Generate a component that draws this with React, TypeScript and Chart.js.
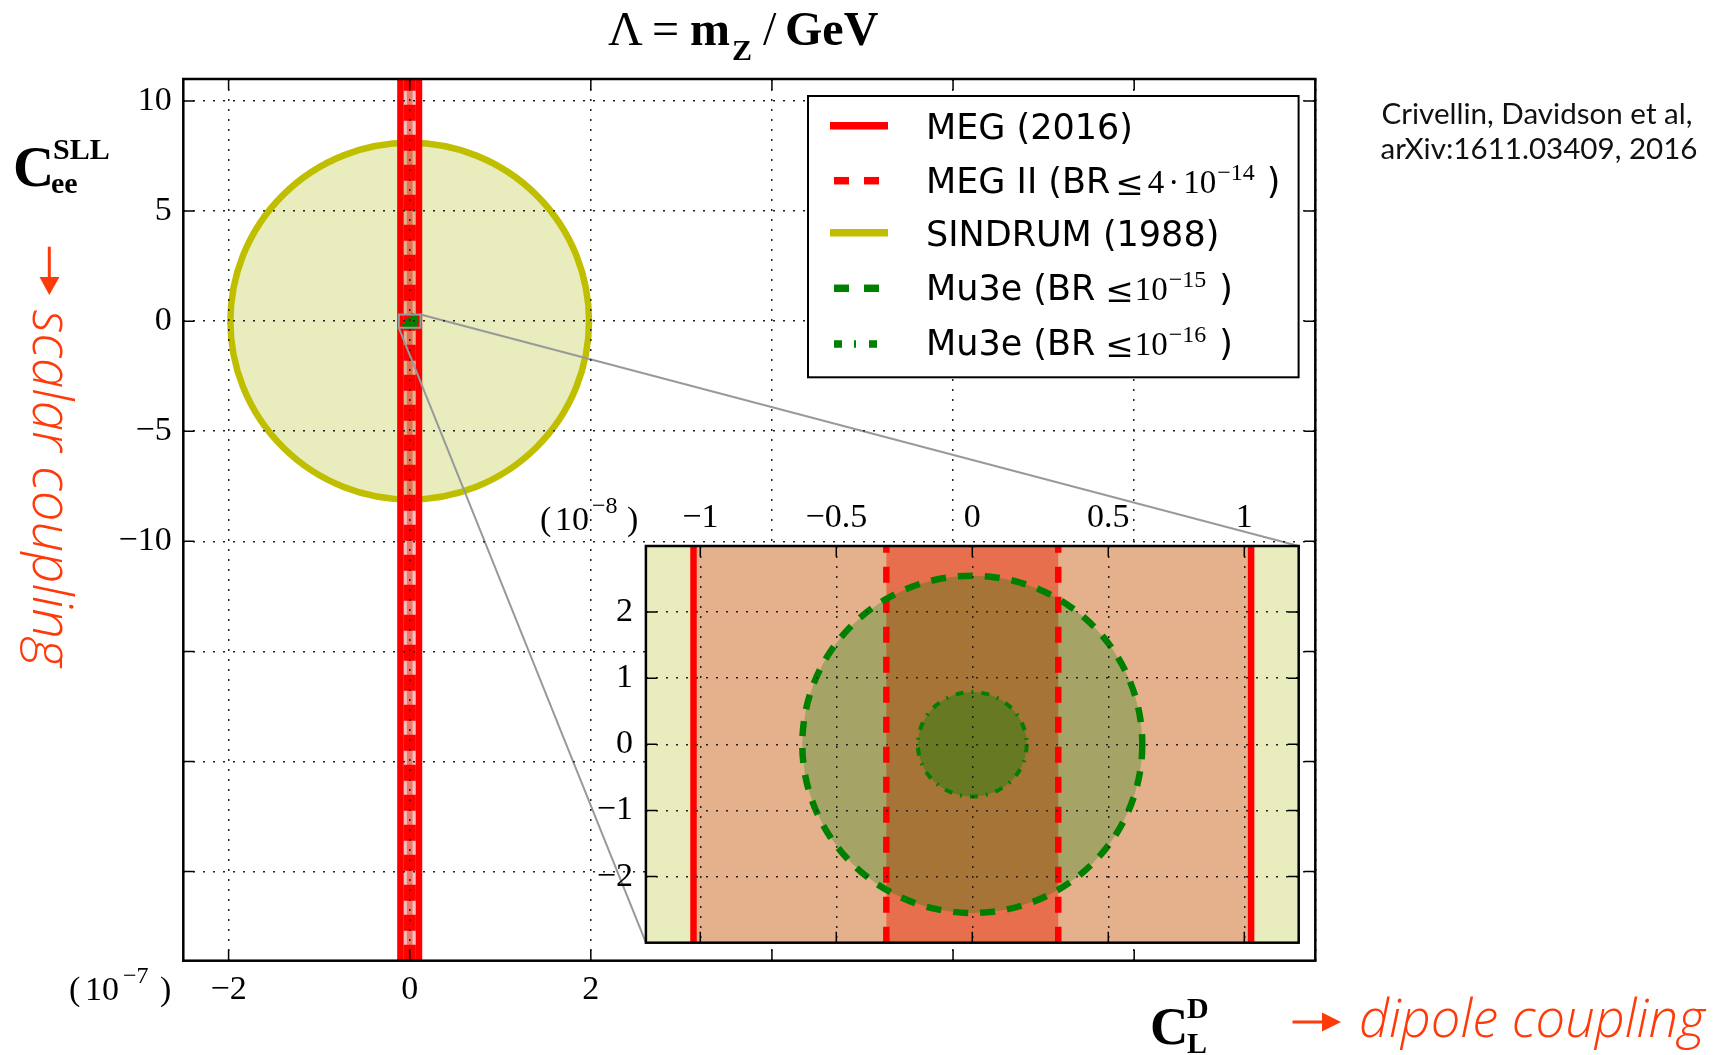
import React, { useEffect, useRef } from 'react';
import { Chart, registerables } from 'chart.js';
Chart.register(...registerables);

// ---------------- data ----------------
// x: C_L^D in units of 1e-8 ; y: C_ee^SLL in main-plot units
const megBoundX = [-1.025, 1.025];      // MEG (2016)
const meg2BoundX = [-0.316, 0.316];     // MEG II (BR <= 4e-14)
const sindrumEllipse = [0, 0, 19.8, 8.1];   // cx, cy, semi-axis x, semi-axis y
const mu3e15Ellipse = [0, 0, 0.625, 0.255];
const mu3e16Ellipse = [0, 0, 0.2, 0.079];
const zoomBoxX = [-1.2, 1.2];
const zoomBoxY = [-0.3, 0.3];

const mainXRange = [-25, 100];
const mainYRange = [-29.05, 11];
const mainXTicks = [-20, 0, 20, 40, 60, 80, 100];
const mainXTickLabels = ['−2', '0', '2', '', '', '', ''];
const mainYTicks = [-25, -20, -15, -10, -5, 0, 5, 10];
const mainYTickLabels = ['', '', '', '−10', '−5', '0', '5', '10'];

const insetXRange = [-1.2, 1.2];
const insetYRange = [-0.3, 0.3];
const insetXTicks = [-1, -0.5, 0, 0.5, 1];
const insetXTickLabels = ['−1', '−0.5', '0', '0.5', '1'];
const insetYTicks = [-0.2, -0.1, 0, 0.1, 0.2];
const insetYTickLabels = ['−2', '−1', '0', '1', '2'];

const legendNames = ['MEG (2016)', 'MEG II (BR', 'SINDRUM (1988)', 'Mu3e (BR', 'Mu3e (BR'];
const legendExponents = ['', '−14', '', '−15', '−16'];

// ---------------- layout / style constants ----------------
const W = 1720, H = 1055;
const MAIN_AREA = { left: 183.3, top: 79, right: 1315.3, bottom: 960.7 };
const INSET_CANVAS = { left: 500, top: 470, width: 810, height: 490 };
const INSET_AREA = { left: 645.9, top: 546, right: 1298.7, bottom: 942.7 };

const SERIF = '"Liberation Serif", "DejaVu Serif", serif';
const SANS = '"DejaVu Sans", sans-serif';
const HAND = '"Open Sans", "Lato", sans-serif';
const HAND_COLOR = '#ff3a0a';

const ellipseStyles = [
  { shape: sindrumEllipse, fill: '#e9ecbc', stroke: '#bfbf00', width: 6.5, dash: [] as number[] },
  { shape: mu3e15Ellipse, fill: 'rgba(0,128,0,0.28)', stroke: '#008000', width: 6.5, dash: [15, 12] },
  { shape: mu3e16Ellipse, fill: 'rgba(0,128,0,0.38)', stroke: '#008000', width: 4, dash: [8, 8, 2, 8] },
];

function regionDatasets(yr: number[]) {
  const [y0, y1] = yr;
  const rect = (b: number[]) => [
    { x: b[0], y: y0 }, { x: b[0], y: y1 }, { x: b[1], y: y1 }, { x: b[1], y: y0 },
  ];
  const vline = (v: number) => [{ x: v, y: y0 }, { x: v, y: y1 }];
  const base = { showLine: true, pointRadius: 0, pointHoverRadius: 0, tension: 0 };
  return [
    { ...base, label: 'MEG band', data: rect(megBoundX), fill: 'shape', backgroundColor: 'rgba(220,0,0,0.25)', borderColor: 'rgba(0,0,0,0)', borderWidth: 0, order: 6 },
    { ...base, label: 'MEG (2016)', data: vline(megBoundX[0]), fill: false, borderColor: '#ff0000', borderWidth: 6.5, order: 5 },
    { ...base, label: 'MEG (2016) r', data: vline(megBoundX[1]), fill: false, borderColor: '#ff0000', borderWidth: 6.5, order: 5 },
    { ...base, label: 'MEG II band', data: rect(meg2BoundX), fill: 'shape', backgroundColor: 'rgba(235,30,0,0.45)', borderColor: 'rgba(0,0,0,0)', borderWidth: 0, order: 4 },
    { ...base, label: 'MEG II', data: vline(meg2BoundX[0]), fill: false, borderColor: '#ff0000', borderWidth: 6.5, borderDash: [16, 14], order: 3 },
    { ...base, label: 'MEG II r', data: vline(meg2BoundX[1]), fill: false, borderColor: '#ff0000', borderWidth: 6.5, borderDash: [16, 14], order: 3 },
  ];
}

// part: 'fill' | 'stroke'; which: indexes into ellipseStyles
function drawEllipses(chart: any, which: number[], part: string) {
  const { ctx, chartArea: a, scales } = chart;
  const xs = scales.x, ys = scales.y;
  ctx.save();
  ctx.beginPath();
  ctx.rect(a.left, a.top, a.right - a.left, a.bottom - a.top);
  ctx.clip();
  for (const k of which) {
    const st = ellipseStyles[k];
    const [cx0, cy0, ax, ay] = st.shape;
    const cx = xs.getPixelForValue(cx0), cy = ys.getPixelForValue(cy0);
    const rx = Math.abs(xs.getPixelForValue(cx0 + ax) - cx);
    const ry = Math.abs(ys.getPixelForValue(cy0 + ay) - cy);
    ctx.beginPath();
    ctx.ellipse(cx, cy, rx, ry, 0, 0, Math.PI * 2);
    if (part === 'fill') {
      ctx.fillStyle = st.fill;
      ctx.fill();
    } else {
      ctx.setLineDash(st.dash);
      ctx.lineWidth = st.width;
      ctx.strokeStyle = st.stroke;
      ctx.stroke();
    }
  }
  ctx.restore();
}

function drawFrameTicks(chart: any, xt: number[], yt: number[]) {
  const { ctx, chartArea: a, scales } = chart;
  ctx.save();
  ctx.setLineDash([]);
  ctx.strokeStyle = '#000';
  ctx.lineWidth = 1.5;
  const L = 11;
  ctx.beginPath();
  for (const v of xt) {
    const p = scales.x.getPixelForValue(v);
    if (p <= a.left + 1 || p >= a.right - 1) continue;
    ctx.moveTo(p, a.bottom); ctx.lineTo(p, a.bottom - L);
    ctx.moveTo(p, a.top); ctx.lineTo(p, a.top + L);
  }
  for (const v of yt) {
    const p = scales.y.getPixelForValue(v);
    if (p <= a.top + 1 || p >= a.bottom - 1) continue;
    ctx.moveTo(a.left, p); ctx.lineTo(a.left + L, p);
    ctx.moveTo(a.right, p); ctx.lineTo(a.right - L, p);
  }
  ctx.stroke();
  ctx.lineWidth = 2.5;
  ctx.strokeRect(a.left, a.top, a.right - a.left, a.bottom - a.top);
  ctx.restore();
}

type Run = { t: string; font: string; pre?: number; dy?: number };
function drawSeq(ctx: CanvasRenderingContext2D, x: number, y: number, runs: Run[], color = '#000') {
  let cx = x;
  ctx.fillStyle = color;
  ctx.textAlign = 'left';
  ctx.textBaseline = 'alphabetic';
  for (const r of runs) {
    cx += r.pre || 0;
    ctx.font = r.font;
    ctx.fillText(r.t, cx, y + (r.dy || 0));
    cx += ctx.measureText(r.t).width;
  }
}
function drawAt(ctx: CanvasRenderingContext2D, t: string, font: string, x: number, y: number) {
  ctx.font = font;
  ctx.textAlign = 'left';
  ctx.textBaseline = 'alphabetic';
  ctx.fillStyle = '#000';
  ctx.fillText(t, x, y);
}
function fitFont(ctx: CanvasRenderingContext2D, t: string, tmpl: (s: number) => string, base: number, width: number) {
  ctx.font = tmpl(base);
  const w = ctx.measureText(t).width;
  return tmpl((base * width) / w);
}

function drawLegend(ctx: CanvasRenderingContext2D) {
  ctx.save();
  ctx.fillStyle = '#fff';
  ctx.fillRect(808, 96, 490.6, 281.3);
  ctx.strokeStyle = '#000';
  ctx.lineWidth = 2;
  ctx.strokeRect(808, 96, 490.6, 281.3);
  const samples = [
    { c: '#ff0000', d: [] as number[], x0: 830, x1: 888, y: 125.7 },
    { c: '#ff0000', d: [15, 15], x0: 834, x1: 879, y: 180.7 },
    { c: '#bfbf00', d: [] as number[], x0: 830, x1: 888, y: 232.7 },
    { c: '#008000', d: [15, 15], x0: 834, x1: 879, y: 288.3 },
    { c: '#008000', d: [8, 12, 2, 13], x0: 834, x1: 877, y: 344 },
  ];
  for (const s of samples) {
    ctx.beginPath();
    ctx.setLineDash(s.d);
    ctx.lineWidth = 7.5;
    ctx.strokeStyle = s.c;
    ctx.lineCap = 'butt';
    ctx.moveTo(s.x0, s.y);
    ctx.lineTo(s.x1, s.y);
    ctx.stroke();
  }
  ctx.setLineDash([]);
  const sans = `35px ${SANS}`;
  const m = `33px ${SERIF}`;
  const le = `34px "DejaVu Serif", serif`;
  const sup = `24px ${SERIF}`;
  const baselines = [139.3, 192.7, 245.7, 300, 355];
  const rows: Run[][] = [
    [{ t: legendNames[0], font: sans }],
    [{ t: legendNames[1], font: sans }, { t: '≤', font: le, pre: 5, dy: 2 }, { t: '4', font: m, pre: 4 }, { t: '·', font: m, pre: 4 },
      { t: '10', font: m, pre: 4 }, { t: legendExponents[1], font: sup, pre: 1, dy: -13 }, { t: ')', font: sans, pre: 12 }],
    [{ t: legendNames[2], font: sans }],
    [{ t: legendNames[3], font: sans }, { t: '≤', font: le, pre: 10, dy: 2 }, { t: '10', font: m, pre: 1 },
      { t: legendExponents[3], font: sup, pre: 1, dy: -13 }, { t: ')', font: sans, pre: 13 }],
    [{ t: legendNames[4], font: sans }, { t: '≤', font: le, pre: 10, dy: 2 }, { t: '10', font: m, pre: 1 },
      { t: legendExponents[4], font: sup, pre: 1, dy: -13 }, { t: ')', font: sans, pre: 13 }],
  ];
  rows.forEach((r, i) => drawSeq(ctx, 926, baselines[i], r));
  ctx.restore();
}

function drawTexts(ctx: CanvasRenderingContext2D) {
  ctx.save();
  // title
  drawAt(ctx, 'Λ', `48px ${SERIF}`, 608, 45);
  drawAt(ctx, '=', `48px ${SERIF}`, 652, 45);
  drawAt(ctx, 'm', `bold 48px ${SERIF}`, 690, 45);
  drawAt(ctx, 'Z', `bold 30px ${SERIF}`, 732, 60);
  drawAt(ctx, '/', `48px ${SERIF}`, 763, 45);
  drawAt(ctx, 'GeV', `bold 48px ${SERIF}`, 785, 45);
  // y label
  drawAt(ctx, 'C', `bold 57px ${SERIF}`, 13, 186);
  drawAt(ctx, 'SLL', `bold 30px ${SERIF}`, 53, 159);
  drawAt(ctx, 'ee', `bold 30px ${SERIF}`, 51, 193);
  // x label
  drawAt(ctx, 'C', `bold 53px ${SERIF}`, 1150, 1044);
  drawAt(ctx, 'D', `bold 30px ${SERIF}`, 1187, 1018);
  drawAt(ctx, 'L', `bold 30px ${SERIF}`, 1187, 1053);
  // axis multipliers
  drawAt(ctx, '(', `34px ${SERIF}`, 69, 1000);
  drawAt(ctx, '10', `34px ${SERIF}`, 85, 1000);
  drawAt(ctx, '−7', `24px ${SERIF}`, 123, 983);
  drawAt(ctx, ')', `34px ${SERIF}`, 160, 1000);
  drawAt(ctx, '(', `34px ${SERIF}`, 540, 530);
  drawAt(ctx, '10', `34px ${SERIF}`, 555, 530);
  drawAt(ctx, '−8', `24px ${SERIF}`, 592, 513);
  drawAt(ctx, ')', `34px ${SERIF}`, 627, 530);
  // credit
  const l1 = 'Crivellin, Davidson et al,';
  const l2 = 'arXiv:1611.03409, 2016';
  ctx.font = fitFont(ctx, l1, (s) => `${s}px Lato, "Open Sans", sans-serif`, 27, 311);
  ctx.fillStyle = '#111';
  ctx.textAlign = 'center';
  ctx.fillText(l1, 1537, 124);
  ctx.fillText(l2, 1539, 159);
  // hand annotations
  ctx.fillStyle = HAND_COLOR;
  ctx.strokeStyle = HAND_COLOR;
  ctx.lineWidth = 3;
  ctx.beginPath(); ctx.moveTo(1292.5, 1022); ctx.lineTo(1326, 1022); ctx.stroke();
  ctx.beginPath(); ctx.moveTo(1322, 1012.5); ctx.lineTo(1341, 1022); ctx.lineTo(1322, 1031.5); ctx.closePath(); ctx.fill();
  ctx.beginPath(); ctx.moveTo(49.3, 246.7); ctx.lineTo(49.3, 281); ctx.stroke();
  ctx.beginPath(); ctx.moveTo(39.5, 277); ctx.lineTo(59.5, 277); ctx.lineTo(49.3, 295); ctx.closePath(); ctx.fill();
  const d = 'dipole coupling';
  ctx.font = fitFont(ctx, d, (s) => `italic 300 ${s}px ${HAND}`, 44, 346);
  ctx.textAlign = 'left';
  ctx.fillText(d, 1359, 1037);
  const sc = 'scalar coupling';
  ctx.font = fitFont(ctx, sc, (s) => `italic 300 ${s}px ${HAND}`, 44, 357);
  ctx.translate(33, 310);
  ctx.rotate(Math.PI / 2);
  ctx.fillText(sc, 0, 0);
  ctx.restore();
}

function drawZoomMarks(chart: any) {
  const { ctx, scales } = chart;
  const x0 = scales.x.getPixelForValue(zoomBoxX[0]), x1 = scales.x.getPixelForValue(zoomBoxX[1]);
  const y0 = scales.y.getPixelForValue(zoomBoxY[0]), y1 = scales.y.getPixelForValue(zoomBoxY[1]);
  ctx.save();
  ctx.setLineDash([]);
  ctx.strokeStyle = '#999';
  ctx.lineWidth = 2;
  ctx.strokeRect(x0, y1, x1 - x0, y0 - y1);
  ctx.beginPath();
  ctx.moveTo(x1, y1); ctx.lineTo(INSET_AREA.right, INSET_AREA.top);
  ctx.moveTo(x0, y0); ctx.lineTo(INSET_AREA.left, INSET_AREA.bottom);
  ctx.stroke();
  ctx.restore();
}

// layering: SINDRUM fill -> band fills (filler) -> SINDRUM outline + Mu3e fills -> red lines -> Mu3e outlines -> grid
const layerHooks = {
  beforeDraw(chart: any) { drawEllipses(chart, [0], 'fill'); },
  beforeDatasetsDraw(chart: any) { drawEllipses(chart, [0], 'stroke'); drawEllipses(chart, [1, 2], 'fill'); },
  afterDatasetsDraw(chart: any) { drawEllipses(chart, [1, 2], 'stroke'); },
};

const mainPlugin = {
  id: 'mainDecor',
  ...layerHooks,
  afterDatasetsDraw(chart: any) { layerHooks.afterDatasetsDraw(chart); drawZoomMarks(chart); },
  afterDraw(chart: any) {
    drawFrameTicks(chart, mainXTicks, mainYTicks);
    drawTexts(chart.ctx);
    drawLegend(chart.ctx);
  },
};
const insetPlugin = {
  id: 'insetDecor',
  ...layerHooks,
  afterDraw(chart: any) { drawFrameTicks(chart, insetXTicks, insetYTicks); },
};

function axis(range: number[], ticks: number[], labels: string[], opts: any) {
  return {
    type: 'linear',
    min: range[0],
    max: range[1],
    position: opts.position,
    afterBuildTicks: (s: any) => { s.ticks = ticks.map((v) => ({ value: v })); },
    afterFit: (s: any) => {
      if (opts.width) s.width = opts.width;
      if (opts.height) s.height = opts.height;
      s.paddingTop = 0; s.paddingBottom = 0; s.paddingLeft = 0; s.paddingRight = 0;
    },
    grid: { color: '#222', lineWidth: 1.5, drawTicks: false, z: 1 },
    border: { display: false, dash: [2, 8] },
    ticks: {
      autoSkip: false, maxRotation: 0, padding: opts.padding, color: '#000',
      font: { family: 'Liberation Serif', size: 34 },
      callback: (v: number) => { const i = ticks.indexOf(v); return i >= 0 ? labels[i] : ''; },
    },
  };
}

export default function App() {
  const mainRef = useRef<HTMLCanvasElement>(null);
  const insetRef = useRef<HTMLCanvasElement>(null);
  useEffect(() => {
    document.body.style.margin = '0';
    document.body.style.overflow = 'hidden';
    const common = {
      responsive: false, animation: false, events: [],
      plugins: { legend: { display: false }, tooltip: { enabled: false }, filler: { drawTime: 'beforeDatasetsDraw' } },
    };
    const main = new Chart(mainRef.current!, {
      type: 'scatter',
      data: { datasets: regionDatasets(mainYRange) as any },
      options: {
        ...common,
        layout: { padding: { left: MAIN_AREA.left - 80, top: MAIN_AREA.top, right: W - MAIN_AREA.right, bottom: H - MAIN_AREA.bottom - 60 } },
        scales: {
          x: axis(mainXRange, mainXTicks, mainXTickLabels, { position: 'bottom', height: 60, padding: 8.5 }),
          y: axis(mainYRange, mainYTicks, mainYTickLabels, { position: 'left', width: 80, padding: 11.6 }),
        } as any,
      } as any,
      plugins: [mainPlugin],
    });
    const inset = new Chart(insetRef.current!, {
      type: 'scatter',
      data: { datasets: regionDatasets(insetYRange) as any },
      options: {
        ...common,
        layout: {
          padding: {
            left: INSET_AREA.left - INSET_CANVAS.left - 60,
            top: INSET_AREA.top - INSET_CANVAS.top - 50,
            right: INSET_CANVAS.left + INSET_CANVAS.width - INSET_AREA.right,
            bottom: INSET_CANVAS.top + INSET_CANVAS.height - INSET_AREA.bottom,
          },
        },
        scales: {
          x: axis(insetXRange, insetXTicks, insetXTickLabels, { position: 'top', height: 50, padding: 8 }),
          y: axis(insetYRange, insetYTicks, insetYTickLabels, { position: 'left', width: 60, padding: 13 }),
        } as any,
      } as any,
      plugins: [insetPlugin],
    });
    return () => { main.destroy(); inset.destroy(); };
  }, []);
  return (
    <div style={{ position: 'absolute', left: 0, top: 0, width: W, height: H, overflow: 'hidden', background: '#fff' }}>
      <canvas ref={mainRef} width={W} height={H} style={{ position: 'absolute', left: 0, top: 0, width: W, height: H }} />
      <canvas
        ref={insetRef}
        width={INSET_CANVAS.width}
        height={INSET_CANVAS.height}
        style={{ position: 'absolute', left: INSET_CANVAS.left, top: INSET_CANVAS.top, width: INSET_CANVAS.width, height: INSET_CANVAS.height }}
      />
    </div>
  );
}
